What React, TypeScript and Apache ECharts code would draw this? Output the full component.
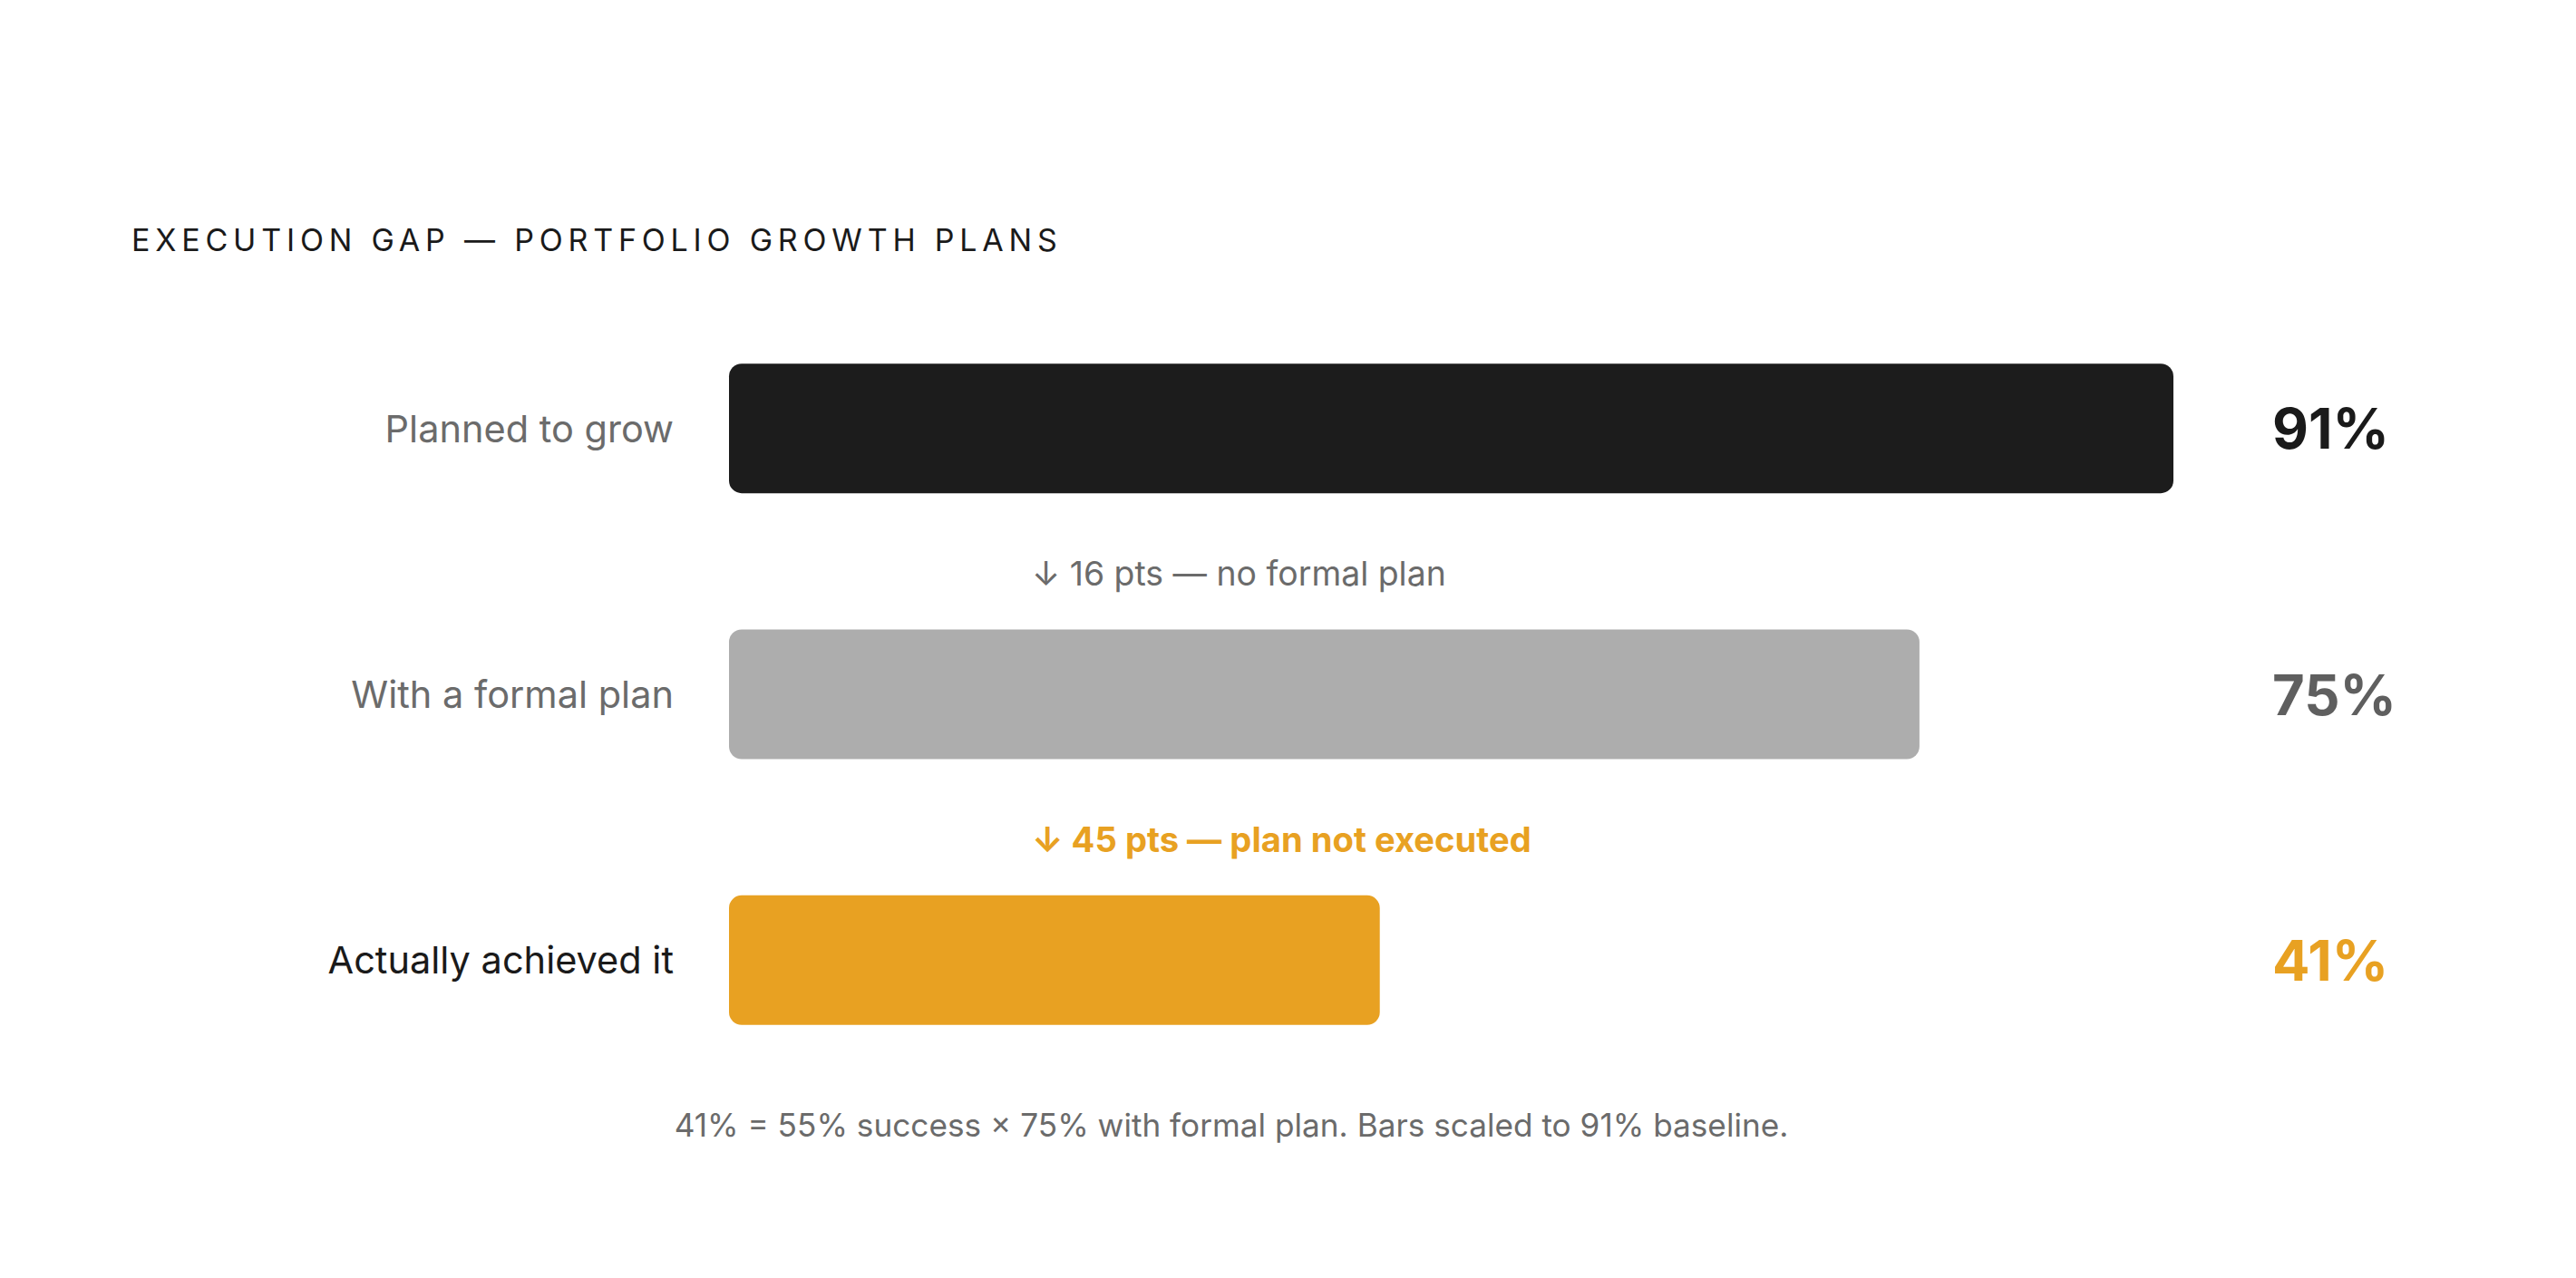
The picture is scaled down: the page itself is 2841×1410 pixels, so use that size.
import React, { useEffect, useRef } from "react";
import * as echarts from "echarts";

const categories = ["Planned to grow", "With a formal plan", "Actually achieved it"];
const values = [91, 75, 41];
const barColors = ["#1c1c1c", "#adadad", "#e8a122"];
const labelColors = ["#6b6b6b", "#6b6b6b", "#1a1a1a"];
const valueColors = ["#1a1a1a", "#5f5f5f", "#e8a122"];
const annotations = ["↓ 16 pts — no formal plan", "↓ 45 pts — plan not executed"];
const annotationColors = ["#6b6b6b", "#e8a122"];
const titleText = "EXECUTION GAP — PORTFOLIO GROWTH PLANS";
const footnote = "41% = 55% success × 75% with formal plan. Bars scaled to 91% baseline.";

const FONT = "Inter, 'DejaVu Sans', sans-serif";

export default function App() {
  const ref = useRef<HTMLDivElement>(null);
  useEffect(() => {
    document.body.style.margin = "0";
    if (!ref.current) return;
    const chart = echarts.init(ref.current, null, { renderer: "svg" });
    const option: any = {
      animation: false,
      backgroundColor: "#ffffff",
      grid: { left: 804, width: 1593, top: 326, height: 880, containLabel: false },
      xAxis: { type: "value", min: 0, max: values[0], show: false },
      yAxis: [
        {
          type: "category",
          inverse: true,
          data: categories.map((c, i) => ({ value: c, textStyle: { color: labelColors[i] } })),
          axisLine: { show: false },
          axisTick: { show: false },
          splitLine: { show: false },
          axisLabel: { margin: 61, fontSize: 41.5, fontFamily: FONT, align: "right" },
        },
        {
          type: "category",
          inverse: true,
          position: "right",
          data: values.map((v, i) => ({ value: v + "%", textStyle: { color: valueColors[i] } })),
          axisLine: { show: false },
          axisTick: { show: false },
          splitLine: { show: false },
          axisLabel: { margin: 109, fontSize: 61.5, fontWeight: "bold", fontFamily: FONT, align: "left" },
        },
      ],
      series: [
        {
          type: "bar",
          barWidth: 143,
          data: values.map((v, i) => ({ value: v, itemStyle: { color: barColors[i], borderRadius: 14 } })),
        },
      ],
      graphic: [
        {
          type: "text",
          x: 145,
          y: 264,
          style: { text: titleText, fontSize: 34, fontFamily: FONT, fill: "#1a1a1a", textVerticalAlign: "middle" },
        },
        {
          type: "text",
          x: 1138,
          y: 632,
          style: { text: annotations[0], fontSize: 37.4, fontFamily: FONT, fill: annotationColors[0], textVerticalAlign: "middle" },
        },
        {
          type: "text",
          x: 1138,
          y: 926,
          style: { text: annotations[1], fontSize: 38.2, fontWeight: "bold", fontFamily: FONT, fill: annotationColors[1], textVerticalAlign: "middle" },
        },
        {
          type: "text",
          x: 1358,
          y: 1241,
          style: { text: footnote, fontSize: 35.2, fontFamily: FONT, fill: "#6b6b6b", textAlign: "center", textVerticalAlign: "middle" },
        },
      ],
    };
    chart.setOption(option);
    const applySpacing = () => {
      const texts = ref.current?.querySelectorAll("text") || [];
      texts.forEach((t) => {
        if (t.textContent === titleText) t.setAttribute("letter-spacing", "5.8");
      });
    };
    applySpacing();
    chart.on("finished", applySpacing);
    return () => chart.dispose();
  }, []);
  return <div ref={ref} style={{ width: 2841, height: 1410 }} />;
}
